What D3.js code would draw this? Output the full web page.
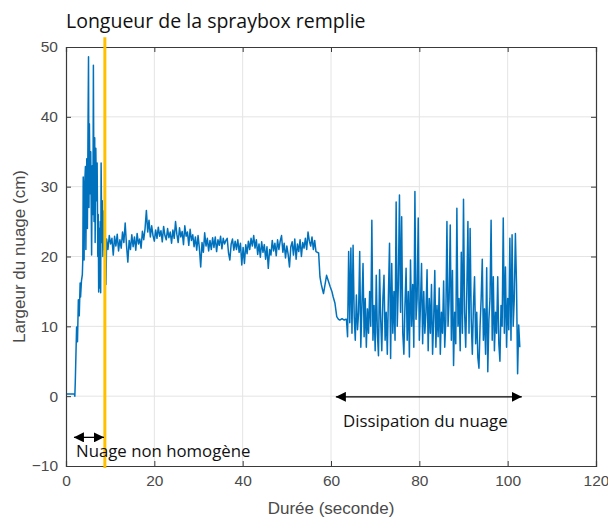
<!DOCTYPE html>
<html>
<head>
<meta charset="utf-8">
<script src="https://cdn.jsdelivr.net/npm/d3@7"></script>
<style>
  html, body { margin: 0; padding: 0; background: #fff; }
  svg { display: block; }
</style>
</head>
<body>
<svg id="chart" width="608" height="517"></svg>
<script>
// Tick values
const xTicks = [0, 20, 40, 60, 80, 100, 120];
const yTicks = [-10, 0, 10, 20, 30, 40, 50];

// Filling phase: [time (s), width (cm)]
const onset = [
  [0, 0.3], [1.9, 0.3], [2.0, 0.0], [2.1, 2.0], [2.4, 9.9], [2.6, 7.8], [2.8, 13.8], [3.0, 11.5],
  [3.2, 16.2], [3.3, 14.2], [3.5, 16.5], [3.7, 17.4], [3.8, 19.5], [3.9, 31.4], [4.0, 22.0],
  [4.1, 19.5], [4.2, 30.0], [4.4, 32.9], [4.5, 21.0], [4.7, 34.0], [4.85, 24.0], [5.0, 40.0],
  [5.1, 48.6], [5.2, 27.0], [5.3, 39.0], [5.45, 29.0], [5.6, 35.0], [5.8, 20.2], [5.95, 33.0],
  [6.1, 26.0], [6.2, 47.4], [6.35, 25.0], [6.5, 37.0], [6.6, 22.0], [6.75, 35.5], [6.9, 28.0],
  [7.05, 33.4], [7.2, 20.0], [7.3, 26.0], [7.4, 14.9], [7.55, 24.0], [7.65, 15.5], [7.75, 25.0],
  [7.85, 14.8], [7.95, 33.4], [8.1, 22.0], [8.2, 28.0], [8.35, 20.0], [8.5, 26.5], [8.65, 21.0],
  [8.8, 24.0], [8.95, 22.0], [9.05, 16.0]
];

// Steady cloud: one sample every 0.3 s from 9.2 s
const steadyStart = 9.2;
const steadyStep = 0.3;
const steady = [
  22.5, 21.0, 23.0, 21.8, 22.6, 20.2, 22.9, 21.5, 23.2, 20.8,
  22.4, 21.2, 23.5, 22.0, 24.8, 21.6, 19.2, 22.3, 21.0, 23.1,
  21.4, 22.8, 20.9, 23.3, 21.8, 22.5, 21.2, 23.6, 22.4, 24.0,
  26.6, 23.5, 25.2, 22.8, 24.4, 23.0, 22.2, 23.8, 22.6, 24.2,
  22.9, 23.7, 22.1, 24.3, 23.0, 22.4, 24.0, 22.7, 23.5, 21.9,
  23.8, 22.6, 25.0, 23.2, 22.0, 24.1, 22.8, 23.6, 21.7, 24.4,
  22.9, 23.5, 21.6, 23.9, 22.3, 23.1, 21.4, 22.8, 20.9, 23.0,
  21.2, 18.5, 22.0, 20.6, 23.4, 21.5, 22.6, 20.8, 22.3, 21.0,
  22.7, 21.3, 22.8, 20.7, 22.4, 21.6, 22.9, 21.1, 22.6, 21.8,
  22.3, 22.6, 20.5, 19.5, 21.8, 22.5, 20.9, 22.2, 21.0, 22.4,
  20.6, 21.9, 18.8, 21.3, 19.0, 21.7, 20.4, 22.2, 21.0, 22.6,
  21.5, 23.0, 21.2, 22.4, 20.3, 21.8, 19.9, 22.1, 20.6, 21.7,
  19.6, 21.4, 18.3, 21.0, 20.2, 22.3, 20.8, 21.9, 20.1, 22.4,
  21.0, 22.2, 23.0, 20.6, 21.9, 19.8, 21.5, 20.3, 18.5, 21.4,
  22.1, 20.2, 22.5, 19.6, 21.8, 20.7, 22.4, 20.0, 22.0, 21.2,
  22.6, 21.0, 23.5, 22.2, 21.5, 22.8, 21.0, 22.3, 20.7
];

// Collapse before dissipation: [time (s), width (cm)]
const collapse = [
  [57.2, 20.5], [57.5, 17.1], [57.8, 16.0], [58.1, 15.2], [58.3, 14.7], [58.6, 15.8],
  [59.0, 17.3], [59.4, 16.5], [59.8, 15.7], [60.2, 15.0], [60.5, 14.2], [60.9, 13.3],
  [61.3, 11.4], [61.7, 11.0], [62.0, 10.9], [62.5, 11.1], [63.0, 10.9], [63.3, 11.0]
];

// Dissipation: one sample every 0.25 s from 63.5 s
const dissipStart = 63.5;
const dissipStep = 0.25;
const dissipation = [
  11.0, 8.5, 20.7, 10.5, 21.2, 9.0, 21.6, 11.5, 8.0, 14.5,
  9.5, 12.0, 20.7, 7.0, 13.0, 19.0, 8.5, 14.0, 7.0, 12.5,
  9.0, 15.0, 10.0, 25.2, 8.0, 13.0, 6.5, 17.3, 9.0, 5.8,
  18.1, 11.0, 6.5, 14.0, 17.3, 8.0, 12.0, 6.0, 14.5, 21.9,
  5.4, 19.0, 9.0, 15.0, 8.0, 27.8, 10.0, 16.0, 28.8, 12.0,
  25.7, 9.0, 6.0, 13.0, 18.3, 8.0, 15.0, 5.6, 19.5, 10.0,
  16.0, 7.0, 29.3, 11.0, 14.0, 25.5, 8.0, 13.0, 19.0, 7.5,
  15.0, 9.0, 12.0, 18.1, 6.5, 14.0, 9.0, 16.0, 6.0, 11.0,
  18.0, 7.0, 13.0, 8.5, 15.5, 6.0, 12.0, 9.0, 16.5, 7.0,
  11.0, 25.0, 10.0, 14.0, 24.5, 8.0, 18.0, 4.4, 12.0, 7.5,
  26.9, 10.0, 14.0, 6.5, 20.6, 9.0, 28.2, 12.0, 7.0, 15.0,
  25.0, 9.0, 24.0, 11.0, 6.0, 13.0, 17.1, 7.5, 12.0, 5.5,
  4.0, 10.0, 14.0, 19.6, 8.0, 12.5, 6.0, 18.4, 3.5, 11.0,
  14.0, 25.2, 8.0, 17.1, 6.5, 12.0, 9.0, 17.1, 7.5, 5.0,
  13.0, 10.0, 25.5, 9.0, 18.5, 7.0, 14.0, 9.5, 22.6, 8.0,
  23.1, 10.0, 14.0, 23.3, 16.1, 3.2, 10.2, 7.0
];

// Annotation positions in data units
const fillMarkerTime = 8.8;
const nonHomogeneousSpan = [1.8, 8.6];
const dissipationSpan = [61.1, 103.2];

const svg = d3.select("#chart");
const margin = { left: 66, right: 12, top: 47, bottom: 51 };
const W = 608, H = 517;

const x = d3.scaleLinear().domain([0, 120]).range([margin.left, W - margin.right]);
const y = d3.scaleLinear().domain([-10, 50]).range([H - margin.bottom, margin.top]);

const axisColor = "#3a3a3a";
const textColor = "#4a4a4a";

// Grid
const grid = svg.append("g");
grid.selectAll(".gx").data(xTicks.slice(1, -1)).join("line")
  .attr("x1", d => x(d)).attr("x2", d => x(d))
  .attr("y1", y(-10)).attr("y2", y(50))
  .attr("stroke", "#e4e4e4").attr("stroke-width", 1);
grid.selectAll(".gy").data(yTicks.slice(1, -1)).join("line")
  .attr("y1", d => y(d)).attr("y2", d => y(d))
  .attr("x1", x(0)).attr("x2", x(120))
  .attr("stroke", "#e4e4e4").attr("stroke-width", 1);

// Assemble the full series
const series = [
  ...onset,
  ...steady.map((v, i) => [steadyStart + i * steadyStep, v]),
  ...collapse,
  ...dissipation.map((v, i) => [dissipStart + i * dissipStep, v])
];

const line = d3.line().x(d => x(d[0])).y(d => y(d[1]));
svg.append("path")
  .datum(series)
  .attr("d", line)
  .attr("fill", "none")
  .attr("stroke", "#0072BD")
  .attr("stroke-width", 1.5)
  .attr("stroke-linejoin", "round");

// Axes with inward ticks, mirrored on top and right
const tickLen = 5;
const axisFont = "'Liberation Sans', Arial, sans-serif";
const axBottom = svg.append("g").attr("transform", `translate(0,${y(-10)})`)
  .call(d3.axisBottom(x).tickValues(xTicks).tickSize(-tickLen).tickPadding(9).tickFormat(d3.format("d")));
const axTop = svg.append("g").attr("transform", `translate(0,${y(50)})`)
  .call(d3.axisTop(x).tickValues(xTicks).tickSize(-tickLen).tickFormat(""));
const axLeft = svg.append("g").attr("transform", `translate(${x(0)},0)`)
  .call(d3.axisLeft(y).tickValues(yTicks).tickSize(-tickLen).tickPadding(8).tickFormat(d3.format("d")));
const axRight = svg.append("g").attr("transform", `translate(${x(120)},0)`)
  .call(d3.axisRight(y).tickValues(yTicks).tickSize(-tickLen).tickFormat(""));

[axBottom, axTop, axLeft, axRight].forEach(g => {
  g.select(".domain").attr("stroke", axisColor).attr("stroke-width", 1.2);
  g.selectAll(".tick line").attr("stroke", axisColor).attr("stroke-width", 1);
  g.selectAll(".tick text").attr("fill", textColor)
    .style("font-family", axisFont).style("font-size", "15.5px");
});

// Axis titles
svg.append("text")
  .attr("x", x(60)).attr("y", 514)
  .attr("text-anchor", "middle")
  .attr("fill", textColor)
  .style("font-family", axisFont).style("font-size", "17px")
  .text("Durée (seconde)");
svg.append("text")
  .attr("transform", `translate(25,${y(20)}) rotate(-90)`)
  .attr("text-anchor", "middle")
  .attr("fill", textColor)
  .style("font-family", axisFont).style("font-size", "17px")
  .text("Largeur du nuage (cm)");

// Fill-length marker
svg.append("line")
  .attr("x1", x(fillMarkerTime)).attr("x2", x(fillMarkerTime))
  .attr("y1", y(51.4)).attr("y2", y(-10.3))
  .attr("stroke", "#FFC000").attr("stroke-width", 3);

const noteFont = "'Open Sans', Lato, sans-serif";
svg.append("text")
  .attr("x", x(0)).attr("y", 28)
  .attr("fill", "#111")
  .style("font-family", noteFont).style("font-size", "19.5px")
  .text("Longueur de la spraybox remplie");

// Double-headed arrows
const defs = svg.append("defs");
["start", "end"].forEach(k => {
  defs.append("marker")
    .attr("id", "arrow-" + k)
    .attr("viewBox", "0 0 10 10")
    .attr("refX", k === "end" ? 10 : 0).attr("refY", 5)
    .attr("markerWidth", 10).attr("markerHeight", 10)
    .attr("markerUnits", "userSpaceOnUse")
    .attr("orient", "auto")
    .append("path")
    .attr("d", k === "end" ? "M0,0 L10,5 L0,10 Z" : "M10,0 L0,5 L10,10 Z")
    .attr("fill", "#000");
});

function doubleArrow(span, v) {
  svg.append("line")
    .attr("x1", x(span[0])).attr("x2", x(span[1]))
    .attr("y1", y(v)).attr("y2", y(v))
    .attr("stroke", "#000").attr("stroke-width", 1.3)
    .attr("marker-start", "url(#arrow-start)")
    .attr("marker-end", "url(#arrow-end)");
}
doubleArrow(nonHomogeneousSpan, -5.9);
doubleArrow(dissipationSpan, -0.1);

svg.append("text")
  .attr("x", 76).attr("y", 457)
  .attr("fill", "#111")
  .style("font-family", noteFont).style("font-size", "16.8px")
  .text("Nuage non homogène");
svg.append("text")
  .attr("x", 343).attr("y", 427)
  .attr("fill", "#111")
  .style("font-family", noteFont).style("font-size", "16.8px")
  .text("Dissipation du nuage");
</script>
</body>
</html>
